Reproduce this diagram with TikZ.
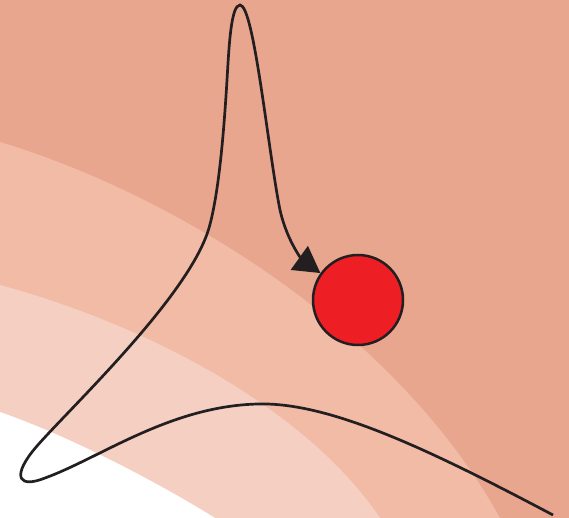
\documentclass[tikz,border=0pt]{standalone}
\usetikzlibrary{arrows.meta}
\usetikzlibrary{positioning}
\definecolor{bandfar}{HTML}{E9A68E}
\definecolor{bandmid}{HTML}{F1BBA6}
\definecolor{bandnear}{HTML}{F5D0C2}
\definecolor{ballred}{HTML}{EE1E25}
\definecolor{inkline}{HTML}{231F20}
\begin{document}
\begin{tikzpicture}[x=1pt,y=-1pt]
	\tikzstyle{ball} = [circle, minimum size=90pt, inner sep=0pt, draw=inkline, line width=2.5pt, fill=ballred]
	\tikzstyle{track} = [draw=inkline, line width=2.7pt, -{Triangle[length=26pt,width=29pt]}]
	\useasboundingbox (0,0) rectangle (569,518);
	\fill[bandfar] (0,0) rectangle (569,518);
	\fill[bandmid] (0,142) .. controls (160,190) and (390,320) .. (500,518) -- (0,518) -- cycle;
	\fill[bandnear] (0,285) .. controls (130,320) and (300,400) .. (380,518) -- (0,518) -- cycle;
	\fill[white] (0,412) .. controls (80,440) and (170,490) .. (215,518) -- (0,518) -- cycle;
	\node (target)[ball] at (358, 300) {};
	\coordinate (start) at (553, 515);
	\draw[track] (start) .. controls (430,450) and (330,402) .. (258,404)
		.. controls (170,406) and (100,458) .. (45,478)
		.. controls (20,488) and (12,478) .. (32,452)
		.. controls (57,420) and (188,300) .. (209,228)
		.. controls (219,193) and (224,130) .. (227,80)
		.. controls (229,46) and (231,5) .. (240,5)
		.. controls (254,5) and (268,150) .. (280,210)
		.. controls (288,245) and (305,262) .. (target);
\end{tikzpicture}
\end{document}
